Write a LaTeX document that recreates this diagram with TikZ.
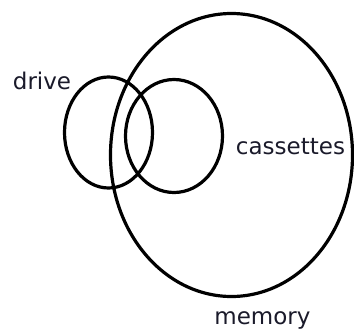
\documentclass[tikz,border=0pt]{standalone}
\usepackage{fontspec}
\setmainfont{DejaVu Sans}
\usetikzlibrary{shapes.geometric}
\definecolor{txt}{HTML}{1A1A2A}
\tikzset{
  set/.style={ellipse, draw=black, line width=3.2pt, inner sep=0pt},
  lbl/.style={font=\fontsize{23}{27}\selectfont, text=txt, inner sep=0pt}
}
\begin{document}
\begin{tikzpicture}[x=1pt,y=-1pt]
\useasboundingbox (0,0) rectangle (354,335);
\node[set, minimum width=242pt, minimum height=283pt] (memory) at (231.5,155) {};
\node[set, minimum width=88pt, minimum height=111pt] (drive) at (108.5,132.5) {};
\node[set, minimum width=97pt, minimum height=113pt] (cassettes) at (174,136) {};
\node[lbl] (ldrive) at (42,81) {drive};
\node[lbl] (lcass) at (290.5,147) {cassettes};
\node[lbl] (lmem) at (262.5,320) {memory};
\end{tikzpicture}
\end{document}
